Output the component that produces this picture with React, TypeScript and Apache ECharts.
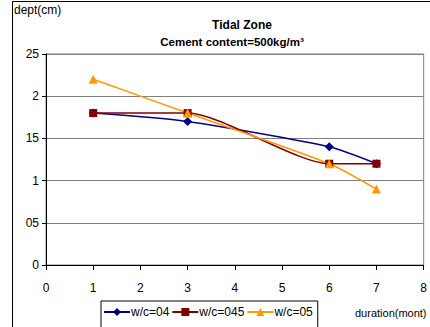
import React, { useEffect, useRef } from "react";
import * as echarts from "echarts";

// Months at which depth was measured
const months = [1, 3, 6, 7];
// Penetration depth (cm) per water/cement ratio
const wc04 = [1.8, 1.7, 1.4, 1.2];
const wc045 = [1.8, 1.8, 1.2, 1.2];
const wc05 = [2.2, 1.8, 1.2, 0.9];
const seriesNames = ["w/c=04", "w/c=045", "w/c=05"];

const FONT = "Liberation Sans, Arial, sans-serif";

const pairs = (ys: number[]) => months.map((m, i) => [m, ys[i]]);

export default function App() {
  const ref = useRef<HTMLDivElement>(null);
  useEffect(() => {
    document.body.style.margin = "0";
    const chart = echarts.init(ref.current!, null, { renderer: "svg" });
    const mk = (name: string, data: number[], color: string, symbol: string, size: number) => ({
      name,
      type: "line",
      data: pairs(data),
      smooth: 0.22,
      symbol,
      symbolSize: size,
      lineStyle: { color, width: 1.5 },
      itemStyle: { color },
    });
    chart.setOption({
      animation: false,
      backgroundColor: "#fff",
      textStyle: { fontFamily: FONT },
      title: [
        {
          text: "Tidal Zone",
          left: 237,
          top: 14,
          textAlign: "center",
          textStyle: { fontFamily: FONT, fontSize: 12, fontWeight: "bold", color: "#000" },
        },
        {
          text: "Cement content=500kg/m³",
          left: 227,
          top: 31,
          textAlign: "center",
          textStyle: { fontFamily: FONT, fontSize: 11.5, fontWeight: "bold", color: "#000" },
        },
      ],
      graphic: [
        {
          type: "rect",
          shape: { x: 12.5, y: 1.5, width: 600, height: 500 },
          style: { fill: "none", stroke: "#000", lineWidth: 1 },
          silent: true,
        },
        {
          type: "text",
          left: 14,
          top: 4,
          style: { text: "dept(cm)", font: `12px ${FONT}`, fill: "#000" },
        },
        {
          type: "text",
          left: 355,
          top: 307,
          style: { text: "duration(mont)", font: `11px ${FONT}`, fill: "#000" },
        },
      ],
      legend: {
        left: 101,
        top: 301,
        orient: "horizontal",
        itemWidth: 26,
        itemHeight: 10,
        itemGap: 2,
        padding: [5, 5, 12, 2],
        borderColor: "#000",
        borderWidth: 1,
        borderRadius: 0,
        textStyle: { fontFamily: FONT, fontSize: 12, color: "#000", padding: [0, 0, 0, -4] },
        data: seriesNames,
      },
      grid: {
        left: 46,
        right: 6,
        top: 54,
        bottom: 62,
        show: true,
        borderColor: "#808080",
        borderWidth: 1,
        backgroundColor: "transparent",
      },
      xAxis: {
        type: "value",
        min: 0,
        max: 8,
        interval: 1,
        axisLine: { show: true, lineStyle: { color: "#000", width: 1 } },
        axisTick: { show: true, length: 5, lineStyle: { color: "#000" } },
        axisLabel: { color: "#000", fontSize: 12, fontFamily: FONT, margin: 17 },
        splitLine: { show: false },
      },
      yAxis: {
        type: "value",
        min: 0,
        max: 2.5,
        interval: 0.5,
        axisLine: { show: true, lineStyle: { color: "#000", width: 1 } },
        axisTick: { show: true, length: 4, lineStyle: { color: "#000" } },
        axisLabel: {
          color: "#000",
          fontSize: 12,
          fontFamily: FONT,
          margin: 7,
          formatter: (v: number) => String(v).replace(".", ""),
        },
        splitLine: { show: true, lineStyle: { color: "#808080", width: 1 } },
      },
      series: [
        mk(seriesNames[0], wc04, "#000080", "diamond", 9),
        mk(seriesNames[1], wc045, "#800000", "rect", 8),
        mk(seriesNames[2], wc05, "#FF9900", "triangle", 9),
      ],
    });
    return () => chart.dispose();
  }, []);
  return (
    <div
      ref={ref}
      style={{ position: "absolute", left: 0, top: 0, width: 430, height: 327 }}
    />
  );
}
